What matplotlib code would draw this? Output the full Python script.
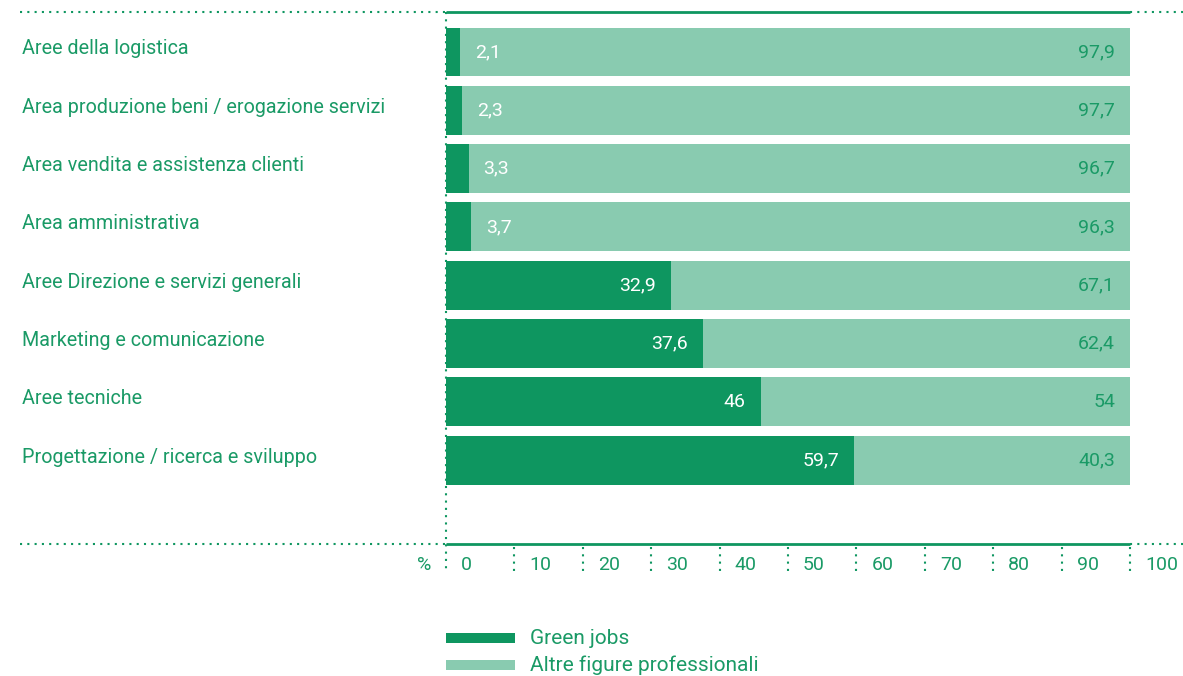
import matplotlib.pyplot as plt
from matplotlib.patches import Rectangle

plt.rcParams['font.family'] = ['Roboto', 'DejaVu Sans']

categories = ['Aree della logistica', 'Area produzione beni / erogazione servizi',
              'Area vendita e assistenza clienti', 'Area amministrativa',
              'Aree Direzione e servizi generali', 'Marketing e comunicazione',
              'Aree tecniche', 'Progettazione / ricerca e sviluppo']
green_jobs = [2.1, 2.3, 3.3, 3.7, 32.9, 37.6, 46, 59.7]
altre = [97.9, 97.7, 96.7, 96.3, 67.1, 62.4, 54, 40.3]
ticks = [0, 10, 20, 30, 40, 50, 60, 70, 80, 90, 100]

DARK = '#0e9660'
LIGHT = '#89cbb0'
TXT = '#1a9a66'

W, H = 1183, 676
fig = plt.figure(figsize=(W / 100, H / 100), dpi=100)
x0, x1 = 446, 1130
ytop, ybot = 12, 544
ax = fig.add_axes([x0 / W, 1 - ybot / H, (x1 - x0) / W, (ybot - ytop) / H])

step = 58.3
first = 52
ax.set_xlim(0, 100)
ax.set_ylim(7 + (ybot - (first + 7 * step)) / step, -(first - ytop) / step)
pxu = (x1 - x0) / 100.0  # px per unit

y = range(len(categories))
ax.barh(y, green_jobs, height=0.84, color=DARK, linewidth=0)
ax.barh(y, altre, left=green_jobs, height=0.84, color=LIGHT, linewidth=0)

fmt = lambda v: ('%g' % v).replace('.', ',')
off = 15 / pxu
lab_dy = -3 / step
for i, (g, a) in enumerate(zip(green_jobs, altre)):
    if g > 10:
        ax.text(g - off, i, fmt(g), color='white', ha='right', va='center', fontsize=14)
    else:
        ax.text(g + off, i, fmt(g), color='white', ha='left', va='center', fontsize=14)
    ax.text(100 - off, i, fmt(a), color=TXT, ha='right', va='center', fontsize=14)
    ax.text((22 - x0) / pxu, i + lab_dy, categories[i], color=TXT, ha='left', va='center', fontsize=14.2)

for s in ax.spines.values():
    s.set_visible(False)
ax.set_xticks([])
ax.set_yticks([])

# top and bottom lines: solid inside, dotted outside
ylo, yhi = ax.get_ylim()
for yy in (ylo, yhi):
    ax.plot([0, 100], [yy, yy], color=DARK, lw=2, clip_on=False, solid_capstyle='butt')
    ax.plot([(20 - x0) / pxu, 0], [yy, yy], color=DARK, lw=1.5, ls=(0, (1, 2.5)), clip_on=False)
    ax.plot([100, (W - x0) / pxu], [yy, yy], color=DARK, lw=1.5, ls=(0, (1, 2.5)), clip_on=False)

# vertical dotted axis line and ticks
def py(p):
    return ylo + (p - ybot) / step
ax.plot([0, 0], [py(ytop), py(572)], color=DARK, lw=1.5, ls=(0, (1, 2.5)), clip_on=False)
for t in ticks:
    if t > 0:
        ax.plot([t, t], [py(547), py(572)], color=DARK, lw=1.5, ls=(0, (1, 2.5)), clip_on=False)
    ax.text(t + 15 / pxu, py(565), str(t), color=TXT, ha='left', va='center', fontsize=14)
ax.text((424 - x0) / pxu, py(565), '%', color=TXT, ha='center', va='center', fontsize=14)

# legend
for k, (lab, col) in enumerate([('Green jobs', DARK), ('Altre figure professionali', LIGHT)]):
    yc = 638 + k * 27
    fig.patches.append(Rectangle((446 / W, 1 - (yc + 5) / H), 69 / W, 10 / H,
                                 transform=fig.transFigure, color=col, lw=0))
    fig.text(530 / W, 1 - yc / H, lab, color=TXT, ha='left', va='center', fontsize=15)

fig.savefig('out.png', dpi=100)
